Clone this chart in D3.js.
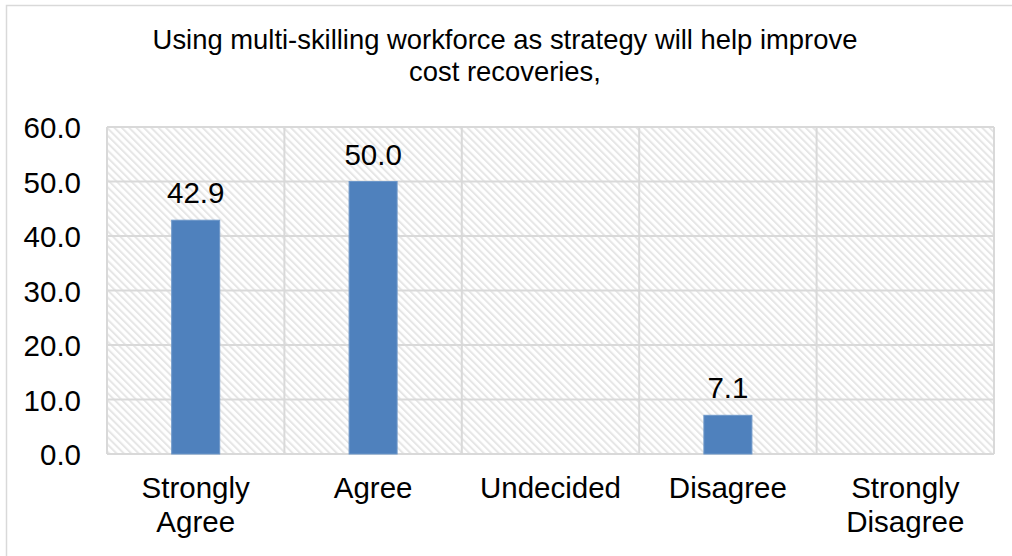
<!DOCTYPE html>
<html>
<head>
<meta charset="utf-8">
<script src="https://cdn.jsdelivr.net/npm/d3@7"></script>
<style>
  html, body { margin: 0; padding: 0; background: #fff; }
  svg { display: block; font-family: "Liberation Sans", Arial, sans-serif; }
</style>
</head>
<body>
<svg id="chart" width="1012" height="556"></svg>
<script>
// Survey responses (percent)
const categories = [["Strongly", "Agree"], ["Agree"], ["Undecided"], ["Disagree"], ["Strongly", "Disagree"]];
const values = [42.9, 50.0, 0, 7.1, 0];
const yTicks = [0, 10, 20, 30, 40, 50, 60];
const titleLines = ["Using multi-skilling workforce as strategy will help improve", "cost recoveries,"];

const svg = d3.select("#chart");
const W = 1012, H = 556;
const plot = { left: 107, top: 127, right: 994, bottom: 454 };
const labelSize = 29.5;
const titleSize = 27.4;

// Outer chart frame
svg.append("rect")
  .attr("x", 6.5).attr("y", 5.5)
  .attr("width", W + 10).attr("height", H + 10)
  .attr("fill", "#fff").attr("stroke", "#d9d9d9").attr("stroke-width", 1.5);

// Diagonal hatch fill for the plot area
const defs = svg.append("defs");
const pat = defs.append("pattern")
  .attr("id", "hatch").attr("patternUnits", "userSpaceOnUse")
  .attr("width", 5.2).attr("height", 5.2)
  .attr("patternTransform", "rotate(-45)");
pat.append("rect").attr("width", 5.2).attr("height", 5.2).attr("fill", "#ffffff");
pat.append("rect").attr("x", 0).attr("y", 0).attr("width", 2).attr("height", 5.2).attr("fill", "#e6e6e6");

const x = d3.scaleBand()
  .domain(categories.map((d, i) => i))
  .range([plot.left, plot.right])
  .paddingInner(0).paddingOuter(0);

const y = d3.scaleLinear().domain([0, 60]).range([plot.bottom, plot.top]);

svg.append("rect")
  .attr("x", plot.left).attr("y", plot.top)
  .attr("width", plot.right - plot.left).attr("height", plot.bottom - plot.top)
  .attr("fill", "url(#hatch)");

// Horizontal gridlines
svg.append("g").selectAll("line").data(yTicks).join("line")
  .attr("x1", plot.left).attr("x2", plot.right)
  .attr("y1", d => y(d)).attr("y2", d => y(d))
  .attr("stroke", "#d9d9d9").attr("stroke-width", 2);

// Vertical category separators
const seps = d3.range(categories.length + 1).map(i => i < categories.length ? x(i) : plot.right);
svg.append("g").selectAll("line").data(seps).join("line")
  .attr("x1", d => d).attr("x2", d => d)
  .attr("y1", plot.top).attr("y2", plot.bottom)
  .attr("stroke", "#d9d9d9").attr("stroke-width", 2);

// Bars
const barW = 48;
const barData = values.map((v, i) => ({ v, i })).filter(d => d.v > 0);
svg.append("g").selectAll("rect").data(barData).join("rect")
  .attr("x", d => x(d.i) + x.bandwidth() / 2 - barW / 2)
  .attr("y", d => y(d.v))
  .attr("width", barW)
  .attr("height", d => y(0) - y(d.v))
  .attr("fill", "#4f81bd")
  .attr("stroke", "#6d97c9").attr("stroke-width", 1);

// Data labels
svg.append("g").selectAll("text").data(barData).join("text")
  .attr("x", d => x(d.i) + x.bandwidth() / 2)
  .attr("y", d => y(d.v) - 17)
  .attr("text-anchor", "middle")
  .attr("font-size", labelSize).attr("fill", "#000")
  .text(d => d.v.toFixed(1));

// Y axis labels
const yAxis = d3.axisLeft(y).tickValues(yTicks).tickFormat(d => d.toFixed(1)).tickSize(0).tickPadding(26);
const gy = svg.append("g").attr("transform", `translate(${plot.left},0)`).call(yAxis);
gy.select(".domain").remove();
gy.selectAll("text").attr("font-size", labelSize).attr("fill", "#000")
  .attr("dy", "0.36em")
  .attr("font-family", "Liberation Sans, Arial, sans-serif");

// X axis labels
const gx = svg.append("g");
categories.forEach((lines, i) => {
  const cx = x(i) + x.bandwidth() / 2;
  const t = gx.append("text")
    .attr("x", cx)
    .attr("y", 498)
    .attr("text-anchor", "middle")
    .attr("font-size", labelSize).attr("fill", "#000");
  lines.forEach((ln, k) => {
    t.append("tspan").attr("x", cx).attr("dy", k === 0 ? 0 : 34).text(ln);
  });
});

// Title
const title = svg.append("text").attr("text-anchor", "middle").attr("font-size", titleSize).attr("fill", "#000");
titleLines.forEach((ln, k) => {
  title.append("tspan").attr("x", 505).attr("y", 49 + k * 32).text(ln);
});
</script>
</body>
</html>
